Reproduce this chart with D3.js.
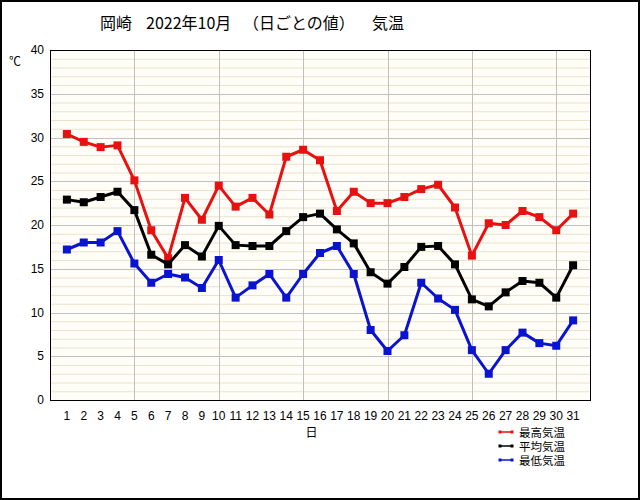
<!DOCTYPE html>
<html>
<head>
<meta charset="utf-8">
<title>岡崎 2022年10月 気温</title>
<script src="https://d3js.org/d3.v7.min.js"></script>
<style>
  body { margin: 0; background: #fff; }
  svg { display: block; }
  text { font-family: "Liberation Sans", Arial, sans-serif; }
  .jp { font-family: "Noto Sans CJK JP", sans-serif; }
</style>
</head>
<body>
<div id="chart"></div>
<script>
const days = d3.range(1, 32);
const maxTemp = [30.4, 29.5, 28.9, 29.1, 25.1, 19.4, 16.2, 23.1, 20.6, 24.5,
  22.1, 23.1, 21.2, 27.8, 28.6, 27.4, 21.6, 23.8, 22.5, 22.5,
  23.2, 24.1, 24.6, 22.0, 16.5, 20.2, 20.0, 21.6, 20.9, 19.4, 21.3];
const avgTemp = [22.9, 22.6, 23.2, 23.8, 21.7, 16.6, 15.5, 17.7, 16.4, 19.9,
  17.7, 17.6, 17.6, 19.3, 20.9, 21.3, 19.5, 17.9, 14.6, 13.3,
  15.2, 17.5, 17.6, 15.5, 11.5, 10.7, 12.3, 13.6, 13.4, 11.7, 15.4];
const minTemp = [17.2, 18.0, 18.0, 19.3, 15.6, 13.4, 14.4, 14.0, 12.8, 16.0,
  11.7, 13.1, 14.4, 11.7, 14.4, 16.8, 17.6, 14.4, 8.0, 5.6,
  7.4, 13.4, 11.6, 10.3, 5.7, 3.0, 5.7, 7.7, 6.5, 6.2, 9.1];
const seriesNames = ["最高気温", "平均気温", "最低気温"];
const seriesColors = ["#e81010", "#000000", "#0a14d0"];
const yTicks = [0, 5, 10, 15, 20, 25, 30, 35, 40];
// title pieces (placed apart like the original)
const titleParts = ["岡崎", "2022年10月", "（日ごとの値）", "気温"];

const width = 640, height = 500;
const svg = d3.select("#chart").append("svg")
  .attr("width", width).attr("height", height);

// outer frame
svg.append("rect")
  .attr("x", 1).attr("y", 1).attr("width", width - 2).attr("height", height - 2)
  .attr("fill", "#fff").attr("stroke", "#000").attr("stroke-width", 2);

const x = d3.scaleLinear().domain([0, 32]).range([50, 590]);
const y = d3.scaleLinear().domain([0, 40]).range([400, 50]);

// plot background
svg.append("rect")
  .attr("x", x(0)).attr("y", y(40))
  .attr("width", x(32) - x(0)).attr("height", y(0) - y(40))
  .attr("fill", "#fffdf7");

// minor grid every 1 degree
svg.append("g").selectAll("line")
  .data(d3.range(1, 40).filter(v => v % 5 !== 0))
  .enter().append("line")
  .attr("x1", x(0)).attr("x2", x(32))
  .attr("y1", d => y(d) + 0.5).attr("y2", d => y(d) + 0.5)
  .attr("stroke", "#ece2cc").attr("stroke-width", 1);

// major grid
svg.append("g").selectAll("line")
  .data(yTicks.filter(v => v > 0 && v < 40))
  .enter().append("line")
  .attr("x1", x(0)).attr("x2", x(32))
  .attr("y1", d => Math.round(y(d)) + 0.5).attr("y2", d => Math.round(y(d)) + 0.5)
  .attr("stroke", "#c0c0c0").attr("stroke-width", 1);

svg.append("g").selectAll("line")
  .data([5, 10, 15, 20, 25, 30])
  .enter().append("line")
  .attr("x1", d => Math.round(x(d)) + 0.5).attr("x2", d => Math.round(x(d)) + 0.5)
  .attr("y1", y(40)).attr("y2", y(0))
  .attr("stroke", "#c0c0c0").attr("stroke-width", 1);

// plot border
svg.append("rect")
  .attr("x", x(0) + 0.5).attr("y", y(40) + 0.5)
  .attr("width", x(32) - x(0)).attr("height", y(0) - y(40))
  .attr("fill", "none").attr("stroke", "#000").attr("stroke-width", 1);

// y axis labels
svg.append("g").selectAll("text")
  .data(yTicks)
  .enter().append("text")
  .attr("x", 44).attr("y", d => y(d) + 4)
  .attr("text-anchor", "end")
  .attr("font-size", 12)
  .text(d => d);

svg.append("text").attr("class", "jp")
  .attr("x", 15).attr("y", 66)
  .attr("text-anchor", "middle").attr("font-size", 12)
  .text("℃");

// x axis labels
svg.append("g").selectAll("text")
  .data(days)
  .enter().append("text")
  .attr("x", d => x(d)).attr("y", 420)
  .attr("text-anchor", "middle")
  .attr("font-size", 12)
  .text(d => d);

svg.append("text").attr("class", "jp")
  .attr("x", x(15.5)).attr("y", 437)
  .attr("text-anchor", "middle").attr("font-size", 12)
  .text("日");

// title
const titleX = [100, 146, 243, 372];
svg.append("g").selectAll("text")
  .data(titleParts)
  .enter().append("text").attr("class", "jp")
  .attr("x", (d, i) => titleX[i]).attr("y", 29)
  .attr("font-size", 16)
  .text(d => d);

// series
const allSeries = [maxTemp, avgTemp, minTemp];
const line = d3.line().x((d, i) => x(days[i])).y(d => y(d));

allSeries.forEach((vals, k) => {
  const g = svg.append("g");
  g.append("path")
    .datum(vals)
    .attr("d", line)
    .attr("fill", "none")
    .attr("stroke", seriesColors[k])
    .attr("stroke-width", 3)
    .attr("stroke-linejoin", "round");
  g.selectAll("rect")
    .data(vals)
    .enter().append("rect")
    .attr("x", (d, i) => x(days[i]) - 4)
    .attr("y", d => y(d) - 4)
    .attr("width", 8).attr("height", 8)
    .attr("fill", seriesColors[k]);
});

// legend
const legend = svg.append("g");
seriesNames.forEach((name, k) => {
  const ly = 432 + k * 14;
  legend.append("line")
    .attr("x1", 500).attr("x2", 513)
    .attr("y1", ly).attr("y2", ly)
    .attr("stroke", seriesColors[k]).attr("stroke-width", 1.5);
  [500, 512].forEach(px => legend.append("rect")
    .attr("x", px - 1.5).attr("y", ly - 1.5).attr("width", 3).attr("height", 3)
    .attr("fill", seriesColors[k]));
  legend.append("text").attr("class", "jp")
    .attr("x", 519).attr("y", ly + 4.5)
    .attr("font-size", 11.5)
    .text(name);
});
</script>
</body>
</html>
